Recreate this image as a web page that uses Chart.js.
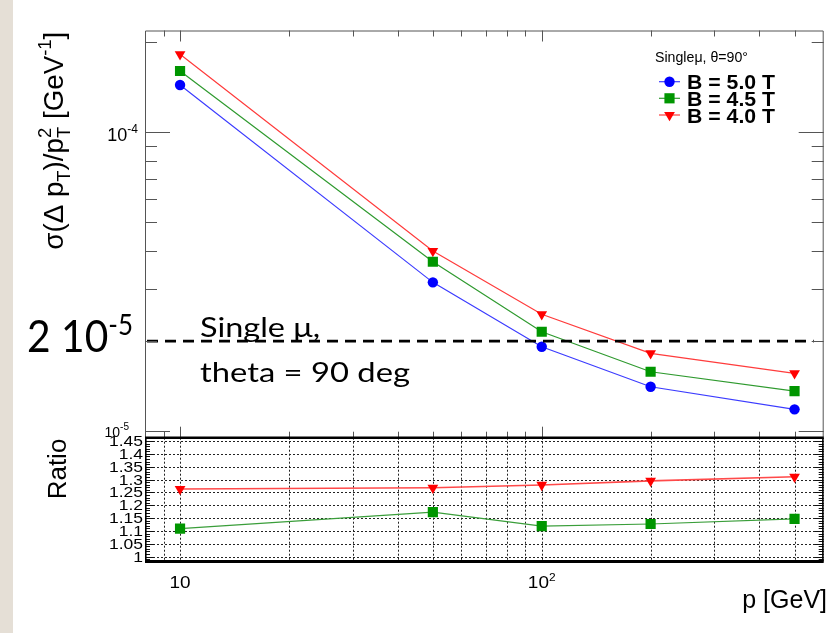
<!DOCTYPE html>
<html>
<head>
<meta charset="utf-8">
<script src="https://cdn.jsdelivr.net/npm/chart.js@4.4.1/dist/chart.umd.min.js"></script>
<style>
html, body { margin: 0; padding: 0; background: #fff; }
#wrap { position: relative; width: 840px; height: 633px; overflow: hidden; background: #fff; }
#strip { position: absolute; left: 0; top: 0; width: 13px; height: 633px; background: #e5dfd6; }
canvas { position: absolute; left: 0; top: 0; }
</style>
</head>
<body>
<div id="wrap">
  <div id="strip"></div>
  <canvas id="main-canvas" width="840" height="633"></canvas>
  <canvas id="ratio-canvas" width="840" height="633"></canvas>
</div>
<script>
// momentum points [GeV]
var momentum = [10, 50, 100, 200, 500];

// sigma(dpT)/pT^2 [GeV^-1]
var res50 = [1.440e-4, 3.146e-5, 1.915e-5, 1.407e-5, 1.182e-5];
var res45 = [1.604e-4, 3.688e-5, 2.150e-5, 1.579e-5, 1.361e-5];
var res40 = [1.824e-4, 4.006e-5, 2.459e-5, 1.820e-5, 1.560e-5];

// ratio to the B = 5.0 T curve
var ratio45 = [1.109, 1.173, 1.119, 1.127, 1.147];
var ratio40 = [1.263, 1.268, 1.279, 1.295, 1.311];

var fieldLabels = ['B = 5.0 T', 'B = 4.5 T', 'B = 4.0 T'];
var refLevel = 2e-5;

// axis ticks
var xGridValues = [9, 10, 20, 30, 40, 50, 60, 70, 80, 90, 100, 200, 300, 400, 500];
var xMajorValues = [10, 100];
var xLabelExps = [1, 2];
var yMinorValues = [2e-5, 3e-5, 4e-5, 5e-5, 6e-5, 7e-5, 8e-5, 9e-5, 2e-4];
var yMajorValues = [1e-5, 1e-4];
var yLabelExps = [-5, -4];
var ratioLabels = ['1', '1.05', '1.1', '1.15', '1.2', '1.25', '1.3', '1.35', '1.4', '1.45'];

var FONT = '"Liberation Sans", Arial, Helvetica, sans-serif';
var SLIDE_FONT = 'Lato, "Open Sans", sans-serif';

var PLOT_LEFT = 145, PLOT_RIGHT = 823.7;
var MAIN_TOP = 30.5, MAIN_BOTTOM = 437.7, RATIO_BOTTOM = 561.5;

// text made of runs with their own size / vertical shift
function drawRich(ctx, segs, o) {
    ctx.save();
    ctx.fillStyle = o.color || '#000';
    ctx.textBaseline = 'alphabetic';
    ctx.textAlign = 'left';
    var fam = o.family || FONT;
    var w = 0;
    segs.forEach(function (s) {
        ctx.font = (s.bold ? 'bold ' : '') + s.size + 'px ' + fam;
        s.w = ctx.measureText(s.t).width;
        if (!s.stack) w += s.w;
    });
    var sx = o.fit ? o.fit / w : 1;
    ctx.translate(o.x, o.y);
    if (o.rot) ctx.rotate(o.rot);
    ctx.scale(sx, o.sy || 1);
    var pen = o.align === 'right' ? -w : (o.align === 'center' ? -w / 2 : 0);
    segs.forEach(function (s) {
        ctx.font = (s.bold ? 'bold ' : '') + s.size + 'px ' + fam;
        ctx.fillText(s.t, pen, s.dy || 0);
        if (!s.stack) pen += s.w;
    });
    ctx.restore();
}

function line(ctx, x1, y1, x2, y2) {
    ctx.beginPath();
    ctx.moveTo(x1, y1);
    ctx.lineTo(x2, y2);
    ctx.stroke();
}

function series(label, ys, color, lineColor, style, radius, rot) {
    return {
        label: label,
        data: momentum.map(function (x, i) { return { x: x, y: ys[i] }; }),
        borderColor: lineColor,
        backgroundColor: color,
        pointBackgroundColor: color,
        pointBorderColor: color,
        pointBorderWidth: 0,
        pointStyle: style,
        pointRadius: radius,
        pointRotation: rot || 0,
        borderWidth: 1.2,
        tension: 0,
        fill: false
    };
}

function marker(ctx, ds, x, y) {
    ctx.fillStyle = ds.pointBackgroundColor;
    if (Chart.helpers && Chart.helpers.drawPoint) {
        Chart.helpers.drawPoint(ctx, { pointStyle: ds.pointStyle, radius: ds.pointRadius, rotation: ds.pointRotation, borderWidth: 0 }, x, y);
    } else {
        ctx.beginPath();
        ctx.arc(x, y, ds.pointRadius, 0, Math.PI * 2);
        ctx.fill();
    }
}

// frame, ticks, labels, legend and slide annotation of the upper pad
var mainDecor = {
    id: 'mainDecor',
    afterDraw: function (chart) {
        var ctx = chart.ctx, a = chart.chartArea;
        var xs = chart.scales.x, ys = chart.scales.y;

        ctx.save();
        ctx.strokeStyle = '#555';
        ctx.lineWidth = 1;
        ctx.beginPath();
        ctx.moveTo(a.left + 0.5, a.bottom);
        ctx.lineTo(a.left + 0.5, a.top + 0.5);
        ctx.lineTo(a.right - 0.5, a.top + 0.5);
        ctx.lineTo(a.right - 0.5, a.bottom);
        ctx.stroke();

        yMinorValues.forEach(function (v) {
            var py = Math.round(ys.getPixelForValue(v)) + 0.5;
            line(ctx, a.left, py, a.left + 12, py);
            line(ctx, a.right - 12, py, a.right, py);
        });
        yMajorValues.forEach(function (v) {
            var py = Math.round(ys.getPixelForValue(v)) + 0.5;
            line(ctx, a.left, py, a.left + 25, py);
            line(ctx, a.right - 25, py, a.right, py);
        });
        xGridValues.forEach(function (v) {
            var px = Math.round(xs.getPixelForValue(v)) + 0.5;
            var len = xMajorValues.indexOf(v) >= 0 ? 11 : 6;
            line(ctx, px, a.top, px, a.top + len);
            line(ctx, px, a.bottom, px, a.bottom - len);
        });
        ctx.restore();

        // y tick labels
        yMajorValues.forEach(function (v, i) {
            var py = ys.getPixelForValue(v);
            var big = yLabelExps[i] === -4;
            drawRich(ctx, [
                { t: '10', size: big ? 18 : 14 },
                { t: String(yLabelExps[i]), size: big ? 12 : 10, dy: big ? -8 : -7 }
            ], { x: big ? 138 : 129, y: py + (big ? 9 : 6), align: 'right' });
        });

        // y title
        drawRich(ctx, [
            { t: 'σ(Δ p', size: 24 },
            { t: 'T', size: 16, dy: 6 },
            { t: ')/p', size: 24 },
            { t: '2', size: 16, dy: -11, stack: true },
            { t: 'T', size: 16, dy: 6 },
            { t: ' [GeV', size: 24 },
            { t: '-1', size: 16, dy: -11 },
            { t: ']', size: 24 }
        ], { x: 63, y: 31.7, rot: -Math.PI / 2, align: 'right', fit: 218, sy: 1.12 });

        // legend
        drawRich(ctx, [{ t: 'Singleμ, θ=90°', size: 14 }], { x: 655, y: 61.5, fit: 93 });
        var rows = [81.7, 98.3, 115];
        chart.data.datasets.forEach(function (ds, i) {
            ctx.save();
            ctx.strokeStyle = ds.borderColor;
            ctx.lineWidth = 1.2;
            line(ctx, 659, rows[i], 680, rows[i]);
            marker(ctx, ds, 669.5, rows[i]);
            ctx.restore();
            drawRich(ctx, [{ t: ds.label, size: 20, bold: true }], { x: 687, y: rows[i] + 7.5, fit: 88 });
        });
    },
    afterDatasetsDraw: function (chart) {
        var ctx = chart.ctx, a = chart.chartArea;
        var py = chart.scales.y.getPixelForValue(refLevel);
        ctx.save();
        ctx.strokeStyle = '#000';
        ctx.lineWidth = 2.6;
        ctx.setLineDash([11, 7]);
        line(ctx, a.left + 2, py, a.right - 10, py);
        ctx.restore();

        drawRich(ctx, [
            { t: '2 10', size: 44 },
            { t: '-5', size: 28, dy: -17 }
        ], { x: 27, y: 352, family: SLIDE_FONT, fit: 106 });
        drawRich(ctx, [{ t: 'Single μ,', size: 27 }], { x: 200, y: 337, family: SLIDE_FONT, fit: 120 });
        drawRich(ctx, [{ t: 'theta = 90 deg', size: 27 }], { x: 200, y: 381.5, family: SLIDE_FONT, fit: 210 });
    }
};

// dotted grid, frame, ticks and labels of the ratio pad
var ratioDecor = {
    id: 'ratioDecor',
    beforeDatasetsDraw: function (chart) {
        var ctx = chart.ctx, a = chart.chartArea;
        var xs = chart.scales.x, ys = chart.scales.y;
        ctx.save();
        ctx.strokeStyle = '#222';
        ctx.lineWidth = 1;
        ctx.setLineDash([2, 2]);
        ratioLabels.forEach(function (t) {
            var py = Math.round(ys.getPixelForValue(parseFloat(t))) + 0.5;
            line(ctx, a.left, py, a.right, py);
        });
        xGridValues.forEach(function (v) {
            var px = Math.round(xs.getPixelForValue(v)) + 0.5;
            line(ctx, px, a.top, px, a.bottom);
        });
        ctx.restore();
    },
    afterDraw: function (chart) {
        var ctx = chart.ctx, a = chart.chartArea;
        var xs = chart.scales.x, ys = chart.scales.y;
        ctx.save();
        ctx.strokeStyle = '#111';
        ctx.lineWidth = 1;
        for (var k = 98; k <= 146; k++) {
            var v = k / 100;
            if (v < ys.min || v > ys.max) continue;
            var py = Math.round(ys.getPixelForValue(v)) + 0.5;
            var len = k % 5 === 0 ? 9 : 5;
            line(ctx, a.left, py, a.left + len, py);
            line(ctx, a.right - len, py, a.right, py);
        }
        ctx.strokeStyle = '#000';
        ctx.lineWidth = 1.6;
        line(ctx, a.left + 0.8, a.top, a.left + 0.8, a.bottom);
        line(ctx, a.right - 0.8, a.top, a.right - 0.8, a.bottom);
        ctx.lineWidth = 2.4;
        line(ctx, a.left, a.top, a.right, a.top);
        ctx.lineWidth = 3;
        line(ctx, a.left, a.bottom, a.right, a.bottom);
        ctx.restore();

        ratioLabels.forEach(function (t) {
            var py = ys.getPixelForValue(parseFloat(t));
            drawRich(ctx, [{ t: t, size: 17.5 }], { x: 143, y: py + 5, align: 'right', sy: 0.8 });
        });

        xMajorValues.forEach(function (v, i) {
            var px = xs.getPixelForValue(v);
            var segs = [{ t: '10', size: 19 }];
            if (xLabelExps[i] !== 1) segs.push({ t: String(xLabelExps[i]), size: 12, dy: -8 });
            drawRich(ctx, segs, { x: px, y: 588, align: 'center', sy: 0.88 });
        });

        drawRich(ctx, [{ t: 'p [GeV]', size: 25 }], { x: 827, y: 608, align: 'right' });
        drawRich(ctx, [{ t: 'Ratio', size: 26 }], { x: 66, y: 469, rot: -Math.PI / 2, align: 'center' });
    }
};

function rendererMain() {
    var xScale = { type: 'logarithmic', min: 8, max: 602, display: false };

    new Chart(document.getElementById('main-canvas'), {
        type: 'line',
        data: {
            datasets: [
                series(fieldLabels[0], res50, '#0000ff', '#3c3cff', 'circle', 5.2),
                series(fieldLabels[1], res45, '#009600', '#2f9a2f', 'rect', 7.2),
                series(fieldLabels[2], res40, '#ff0000', '#ff3c3c', 'triangle', 6.2, 180)
            ]
        },
        options: {
            responsive: false,
            animation: false,
            events: [],
            layout: { padding: { left: PLOT_LEFT, right: 840 - PLOT_RIGHT, top: MAIN_TOP, bottom: 633 - MAIN_BOTTOM } },
            scales: {
                x: xScale,
                y: { type: 'logarithmic', min: 9.5e-6, max: 2.192e-4, display: false }
            },
            plugins: { legend: { display: false }, tooltip: { enabled: false } }
        },
        plugins: [mainDecor]
    });

    var r45 = series('4.5 / 5.0', ratio45, '#009600', '#3a9e3a', 'rect', 7.2);
    var r40 = series('4.0 / 5.0', ratio40, '#ff0000', '#ff4a4a', 'triangle', 6.2, 180);
    r40.borderWidth = 1.6;

    new Chart(document.getElementById('ratio-canvas'), {
        type: 'line',
        data: { datasets: [r45, r40] },
        options: {
            responsive: false,
            animation: false,
            events: [],
            layout: { padding: { left: PLOT_LEFT, right: 840 - PLOT_RIGHT, top: MAIN_BOTTOM, bottom: 633 - RATIO_BOTTOM } },
            scales: {
                x: xScale,
                y: { type: 'linear', min: 0.981, max: 1.463, display: false }
            },
            plugins: { legend: { display: false }, tooltip: { enabled: false } }
        },
        plugins: [ratioDecor]
    });
}

rendererMain();
</script>
</body>
</html>
